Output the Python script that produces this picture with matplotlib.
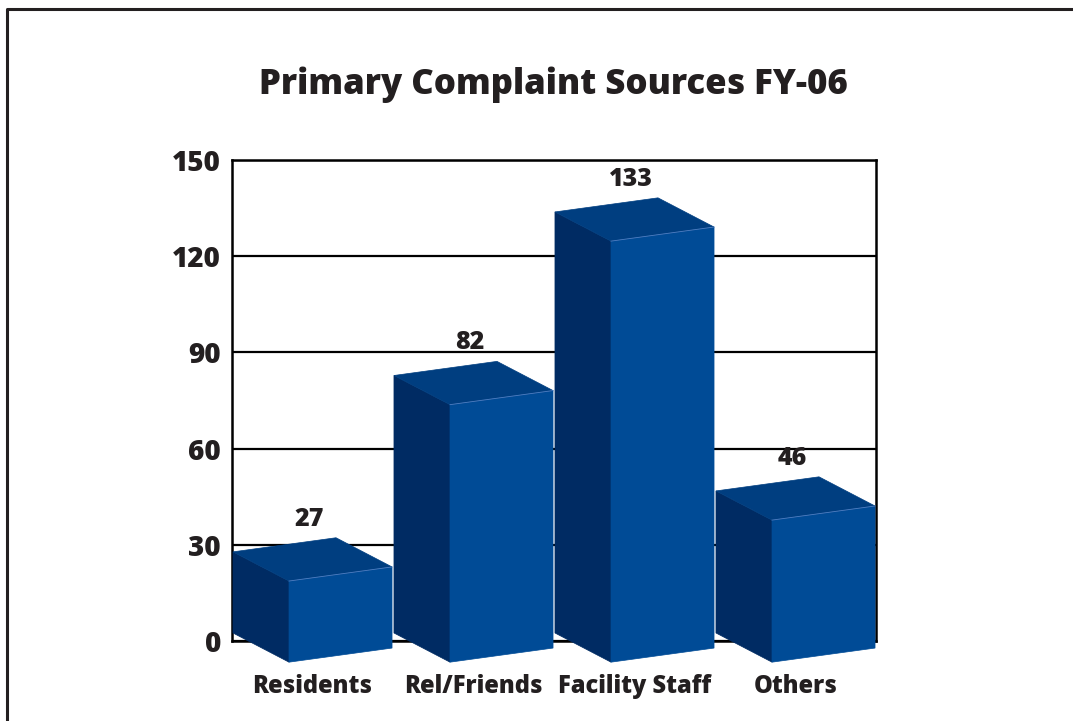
import numpy as np
import matplotlib.pyplot as plt
from matplotlib.patches import Polygon
from matplotlib.lines import Line2D

# chart data
categories = ["Residents", "Rel/Friends", "Facility Staff", "Others"]
values = [27, 82, 133, 46]
y_ticks = [0, 30, 60, 90, 120, 150]
title = "Primary Complaint Sources FY-06"

# pseudo-3d box look
c_front = "#004B96"
c_side = "#002B63"
c_top = "#003E80"
c_edge = "#4F7FC4"
txt = "#231F20"
depth = (0.348, -9.1)   # back -> front
width = (0.640, 4.4)    # left -> right
base = 2.5
heavy = 800

plt.rcParams['font.family'] = ['Open Sans', 'DejaVu Sans']

fig = plt.figure(figsize=(10.73, 7.21), dpi=100)
ax = fig.add_axes([232/1073, 1-641/721, 644/1073, 481/721])

for i, v in enumerate(values):
    L = i + 0.006
    t = v + 0.8
    fx, fy = L + depth[0], depth[1]
    rx, ry = fx + width[0], depth[1] + width[1]
    side = [(L, base), (L, t), (fx, t + fy), (fx, base + fy)]
    front = [(fx, base + fy), (fx, t + fy), (rx, t + ry), (rx, base + ry)]
    top = [(L, t), (L + width[0], t + width[1]), (rx, t + ry), (fx, t + fy)]
    for pts, col in [(side, c_side), (front, c_front), (top, c_top)]:
        ax.add_patch(Polygon(pts, closed=True, fc=col, ec=col, lw=0.5,
                             clip_on=False, zorder=3))
    ax.plot([fx, rx], [t + fy, t + ry], color=c_edge, lw=0.6,
            clip_on=False, zorder=4)
    ax.text(i + 0.48, v + 11, str(v), ha="center", va="center",
            fontsize=18, fontweight=heavy, color=txt)

ax.set_xlim(0, 4)
ax.set_ylim(0, 150)
ax.set_yticks(y_ticks)
ax.set_yticklabels([str(t) for t in y_ticks], fontsize=20, fontweight=heavy, color=txt)
ax.set_xticks(np.arange(len(categories)) + 0.5)
ax.set_xticklabels(categories, fontsize=17, fontweight=heavy, color=txt)
ax.tick_params(axis="both", length=0)
ax.tick_params(axis="y", pad=8)
ax.tick_params(axis="x", pad=24)
ax.yaxis.grid(True, color="black", lw=1.6, zorder=0)
ax.set_axisbelow(True)
for s in ax.spines.values():
    s.set_linewidth(1.8)
    s.set_color("black")

fig.text(553/1073, 1-85/721, title, ha="center", va="center",
         fontsize=25, fontweight=heavy, color=txt)

# outer frame (only top and left edges fall inside the picture)
fig.add_artist(Line2D([7/1073, 7/1073, 1.0], [0.0, 1-9/721, 1-9/721],
                      transform=fig.transFigure, color="#231F20", lw=2.2))

fig.savefig("out.png", dpi=100)
